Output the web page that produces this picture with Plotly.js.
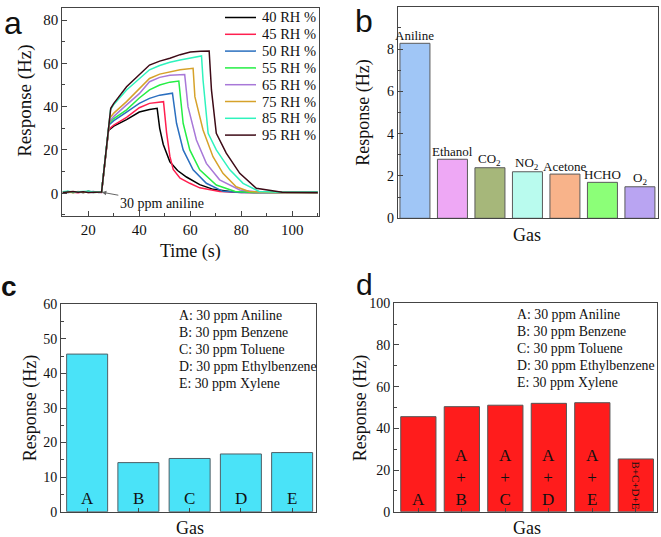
<!DOCTYPE html>
<html><head><meta charset="utf-8">
<script src="https://cdn.plot.ly/plotly-3.0.1.min.js"></script>
<style>html,body{margin:0;padding:0;background:#fff}</style>
</head><body><div id="chart" style="width:661px;height:537px"></div>
<script>
// ---------- Panel a: response vs time at different humidity ----------
const t40 = [10,12,14,16,18,20,22,24,25.2,27.9,30,35,40,44,47,48,49.4,52,55,58.5,63.7,69,77,85,95,110];
const r40 = [0.5,0.8,0.3,0.7,0.4,0.9,0.5,0.6,0.5,29,31,34,37.5,38.7,39.2,30,22.5,14.5,10.5,7.5,4,1.8,0.6,0.3,0.5,0.2];
const t45 = [10,12,14,16,18,20,22,24,25.2,28,30,35,40,44,48,49.5,50.7,52,53.3,56,59.8,63.7,71.5,80,95,110];
const r45 = [0.3,0.6,0.5,0.2,0.7,0.4,0.6,0.3,0.4,29.5,31.5,35,39.5,41.5,42.2,42.3,28,17,11,7,4.6,2.5,0.8,0.3,0.4,0.3];
const t50 = [10,12,14,16,18,20,22,24,25.2,28.1,30,35,40,44,48,53,54.6,57.2,61.1,66.3,72.8,80,95,110];
const r50 = [0.6,0.4,0.7,0.5,0.3,0.6,0.8,0.4,0.5,31.5,33.5,37.5,41.5,43.8,45.3,46.2,32.3,20,10.8,4.6,0.9,0.4,0.3,0.4];
const t55 = [10,12,14,16,18,20,22,24,25.2,28.2,30,35,40,44,48,52,55.5,57.2,59.8,63.7,70.2,77.6,85,95,110];
const r55 = [0.4,0.7,0.3,0.6,0.5,0.8,0.4,0.5,0.6,32.3,34.5,38.5,44,47.7,50,51.3,51.8,32.3,20,10.8,3.8,0.8,0.3,0.4,0.3];
const t65 = [10,12,14,16,18,20,22,24,25.2,28.3,30,35,40,44,48,52,57.8,59.1,62.4,66.3,71.5,79.4,88,100,110];
const r65 = [0.5,0.3,0.6,0.4,0.7,0.5,0.3,0.6,0.4,33,35.5,40.8,46,51.5,53.5,54.5,54.8,40,24.6,13.8,6.2,1.5,0.4,0.3,0.4];
const t75 = [10,12,14,16,18,20,22,24,25.2,28.4,30,35,40,44,48,52,56,61.1,61.8,65,68.9,72.8,78,83,92,110];
const r75 = [0.6,0.5,0.4,0.8,0.3,0.6,0.5,0.7,0.5,34.6,37,42.3,48,53,55,56.1,57,57.7,44.6,29.2,16.9,9.2,3,0.8,0.3,0.4];
const t85 = [10,12,14,16,18,20,22,24,25.2,28.7,30,35,40,44,48,52,56,59.8,64.4,65,67,70.2,75.5,80.7,87,95,110];
const r85 = [0.7,0.9,0.6,0.8,0.7,0.9,0.6,0.8,0.7,38.5,41,47.7,53,57,59,60.5,61.5,62.5,63.4,52.3,27.7,20,10.8,4.6,0.8,0.5,0.6];
const t95 = [10,12,14,16,18,20,22,24,25.2,28.8,30,35,40,44,48,52,56,60,64,67.4,68.3,70.2,74.1,79.4,85.9,96,110];
const r95 = [0.4,0.6,0.8,0.5,0.7,0.4,0.6,0.5,0.6,39.2,41.5,49.2,55,59.2,61,62.3,64,65.2,65.6,65.7,47.7,27.7,18.5,9.2,2.3,0.5,0.3];
const humidityLabels = ['40 RH %','45 RH %','50 RH %','55 RH %','65 RH %','75 RH %','85 RH %','95 RH %'];

// ---------- Panel b: selectivity ----------
const gasNames  = ['Aniline','Ethanol','CO2','NO2','Acetone','HCHO','O2'];
const gasLabels = ['Aniline','Ethanol','CO<sub>2</sub>','NO<sub>2</sub>','Acetone','HCHO','O<sub>2</sub>'];
const gasResp   = [8.27,2.79,2.39,2.2,2.09,1.7,1.49];

// ---------- Panel c: aromatic compounds ----------
const aroCats = ['A','B','C','D','E'];
const aroResp = [45.6,14.2,15.4,16.7,17.1];
const aroKey  = ['A: 30 ppm Aniline','B: 30 ppm Benzene','C: 30 ppm Toluene','D: 30 ppm Ethylbenzene','E: 30 ppm Xylene'];

// ---------- Panel d: mixtures ----------
const mixCats   = ['A','A+B','A+C','A+D','A+E','B+C+D+E'];
const mixLabels = ['A','A<br>+<br>B','A<br>+<br>C','A<br>+<br>D','A<br>+<br>E','B+C+D+E'];
const mixResp   = [45.6,50.4,51.1,52.0,52.3,25.3];

// ---------- styling ----------
const serif = 'Liberation Serif';
const sans = 'Liberation Sans';
const lineColors = ['#000000','#ff1f4f','#2a6fbf','#25ee45','#a878d8','#d6a22a','#2ff3bd','#3d0a16'];
const gasColors = ['#a0c6f6','#eea8f5','#a6b77a','#b9fbee','#f8b38a','#8cff78','#b9a4f2'];
const W = 661, H = 537;
const px = v => v / W, py = v => 1 - v / H;

const tSets = [t40,t45,t50,t55,t65,t75,t85,t95];
const rSets = [r40,r45,r50,r55,r65,r75,r85,r95];
const traces = [];
tSets.forEach((t,i) => traces.push({
  type:'scatter', mode:'lines', x:t, y:rSets[i], name:humidityLabels[i],
  line:{color:lineColors[i], width:1.5}, xaxis:'x', yaxis:'y', showlegend:false
}));
traces.push({type:'bar', x:gasNames, y:gasResp, xaxis:'x2', yaxis:'y2', showlegend:false,
  marker:{color:gasColors, line:{color:'#5a5a5a', width:1}}, width:0.8});
traces.push({type:'bar', x:aroCats, y:aroResp, xaxis:'x3', yaxis:'y3', showlegend:false,
  marker:{color:'#4ae3f8', line:{color:'#4f5f66', width:1}}, width:0.8});
traces.push({type:'bar', x:mixCats, y:mixResp, xaxis:'x4', yaxis:'y4', showlegend:false,
  marker:{color:'#ff1c1c', line:{color:'#555555', width:1}}, width:0.81});

const axBase = {showline:true, mirror:true, linecolor:'#444', linewidth:1, ticks:'inside', ticklen:5,
  tickcolor:'#444', showgrid:false, zeroline:false, tickfont:{family:serif, size:15, color:'#111'}, fixedrange:true};
const mk = (o) => Object.assign({}, axBase, o);

const ann = [];
const shapes = [];
const addText = (text, x, y, size, opts) => ann.push(Object.assign({text, x:px(x), y:py(y), xref:'paper', yref:'paper',
  xanchor:'center', yanchor:'middle', showarrow:false, font:{family:serif, size, color:'#111'}}, opts||{}));

// axis titles
addText('Response (Hz)', 25, 100.8, 19, {textangle:-90});
addText('Time (s)', 190.7, 251.7, 18);
addText('Response (Hz)', 363.3, 112.5, 18, {textangle:-90});
addText('Gas', 526.7, 235, 18);
addText('Response (Hz)', 30, 408.3, 18, {textangle:-90});
addText('Gas', 190, 528.3, 18);
addText('Response (Hz)', 360, 408.3, 18, {textangle:-90});
addText('Gas', 526.7, 528.3, 18);
// panel letters
addText('a', 13.5, 23, 32, {font:{family:sans, size:32, color:'#111'}});
addText('b', 364, 21, 32, {font:{family:sans, size:32, color:'#111'}});
addText('<b>c</b>', 9, 286, 28, {font:{family:sans, size:28, color:'#111'}});
addText('d', 365, 284, 30, {font:{family:sans, size:30, color:'#111'}});
// legend for panel a (line samples + labels)
humidityLabels.forEach((lab,i) => {
  const yy = 17.5 + i*16.8;
  shapes.push({type:'line', xref:'paper', yref:'paper', x0:px(225), x1:px(256), y0:py(yy), y1:py(yy),
    line:{color:lineColors[i], width:1.5}});
  addText(lab, 259.5, yy, 14.5, {xanchor:'left'});
});
// arrow annotation panel a
ann.push({text:'30 ppm aniline', x:25.3, y:0.5, xref:'x', yref:'y', showarrow:true, ax:60, ay:11,
  arrowhead:2, arrowsize:0.9, arrowwidth:1, arrowcolor:'#666', standoff:0, font:{family:serif, size:14, color:'#111'}});
// panel b bar labels
gasNames.forEach((g,i) => ann.push({text:gasLabels[i], x:g, y:gasResp[i], xref:'x2', yref:'y2', xanchor:'center', yanchor:'bottom',
  showarrow:false, font:{family:serif, size:13, color:'#111'}, yshift:-2}));
// panel c labels
aroCats.forEach((c,i) => ann.push({text:c, x:c, y:0, xref:'x3', yref:'y3', xanchor:'center', yanchor:'bottom', showarrow:false,
  font:{family:serif, size:17, color:'#111'}, yshift:2}));
aroKey.forEach((k,i) => addText(k, 176.7, 315.7 + i*16.9, 13.8, {xanchor:'left'}));
// panel d labels
mixCats.forEach((c,i) => {
  if (i === mixCats.length - 1) {
    ann.push({text:mixLabels[i], x:c, y:mixResp[i]/2, xref:'x4', yref:'y4', xanchor:'center', yanchor:'middle', textangle:90, showarrow:false,
      font:{family:serif, size:11, color:'#111'}});
  } else {
    ann.push({text:mixLabels[i], x:c, y:0, xref:'x4', yref:'y4', xanchor:'center', yanchor:'bottom', showarrow:false,
      font:{family:serif, size:17, color:'#111'}, yshift:1});
  }
});
aroKey.forEach((k,i) => addText(k, 515, 314.3 + i*17.1, 13.8, {xanchor:'left'}));

const layout = {
  width:W, height:H, margin:{l:0,r:0,t:0,b:0}, paper_bgcolor:'#fff', plot_bgcolor:'rgba(0,0,0,0)',
  font:{family:serif, color:'#111'}, showlegend:false, bargap:0.2,
  xaxis: mk({domain:[px(62.3), px(318.8)], range:[9.8,110.4], tickvals:[20,40,60,80,100], anchor:'y',
    minor:{ticks:'inside', ticklen:3, dtick:10, tick0:0, tickcolor:'#444'}}),
  yaxis: mk({domain:[py(216), py(8.3)], range:[-10.5,85.4], tickvals:[0,20,40,60,80], anchor:'x',
    minor:{ticks:'inside', ticklen:3, dtick:10, tick0:0, tickcolor:'#444'}}),
  xaxis2: mk({domain:[px(397.7), px(658.3)], range:[-0.46,6.49], showticklabels:false, ticks:'', anchor:'y2'}),
  yaxis2: mk({domain:[py(218.3), py(6.7)], range:[0,10], dtick:2, anchor:'x2', tickfont:{family:serif, size:14, color:'#111'},
    minor:{ticks:'inside', ticklen:3, dtick:1, tickcolor:'#444'}}),
  xaxis3: mk({domain:[px(61), px(315.7)], range:[-0.51,4.46], showticklabels:false, ticklen:4, anchor:'y3'}),
  yaxis3: mk({domain:[py(511.7), py(304.3)], range:[0,60], dtick:10, anchor:'x3', tickfont:{family:serif, size:14, color:'#111'},
    minor:{ticks:'inside', ticklen:3, dtick:5, tickcolor:'#444'}}),
  xaxis4: mk({domain:[px(394), px(656.7)], range:[-0.56,5.48], showticklabels:false, ticklen:4, anchor:'y4'}),
  yaxis4: mk({domain:[py(511.7), py(303.3)], range:[0,100], dtick:20, anchor:'x4', tickfont:{family:serif, size:14, color:'#111'},
    minor:{ticks:'inside', ticklen:3, dtick:10, tickcolor:'#444'}}),
  annotations: ann,
  shapes: shapes
};
Plotly.newPlot('chart', traces, layout, {displayModeBar:false, staticPlot:true});
</script></body></html>
